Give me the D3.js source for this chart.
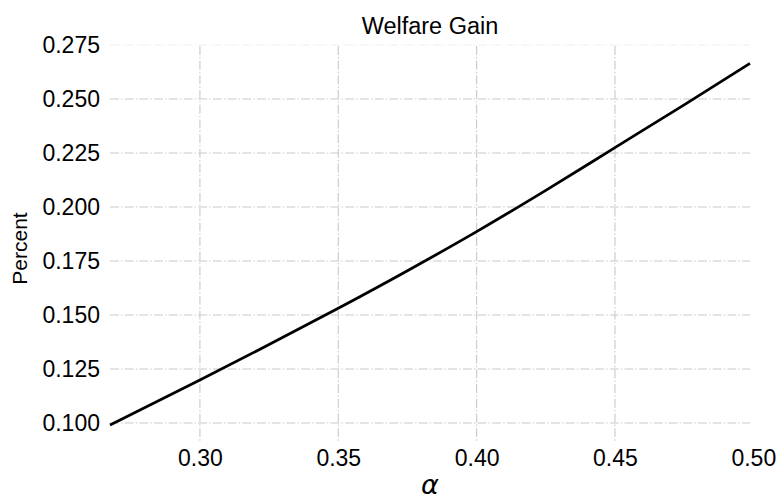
<!DOCTYPE html>
<html>
<head>
<meta charset="utf-8">
<script src="https://cdn.jsdelivr.net/npm/d3@7"></script>
<style>
  body { margin: 0; background: #fff; }
  svg { display: block; }
</style>
</head>
<body>
<svg id="chart" width="779" height="501"></svg>
<script>
// Data
const alphaValues = [0.2675, 0.30, 0.325, 0.35, 0.375, 0.40, 0.425, 0.45, 0.475, 0.4988];
const welfareGain = [0.0991, 0.1199, 0.1363, 0.1531, 0.1705, 0.1886, 0.2077, 0.2275, 0.2473, 0.2665];
const xTicks = [0.30, 0.35, 0.40, 0.45, 0.50];
const yTicks = [0.100, 0.125, 0.150, 0.175, 0.200, 0.225, 0.250, 0.275];
const titleText = "Welfare Gain";
const yLabelText = "Percent";
const xLabelText = "α";

const svg = d3.select("#chart");
const plot = { left: 110, right: 750, top: 46, bottom: 442 };

const x = d3.scaleLinear().domain([0.2675, 0.50]).range([110, 753.3]);
const y = d3.scaleLinear().domain([0.100, 0.275]).range([423, 45]);

const gridColor = "#c9c9c9";
const dash = "8.9,2.2,1.4,2.2";

// vertical grid
svg.append("g").selectAll("line").data(xTicks.filter(t => x(t) <= plot.right)).join("line")
  .attr("x1", d => x(d)).attr("x2", d => x(d))
  .attr("y1", plot.top).attr("y2", plot.bottom)
  .attr("stroke", gridColor).attr("stroke-width", 1.1).attr("stroke-dasharray", dash);

// horizontal grid
svg.append("g").selectAll("line").data(yTicks).join("line")
  .attr("x1", plot.left).attr("x2", plot.right)
  .attr("y1", d => y(d)).attr("y2", d => y(d))
  .attr("stroke", d => d === 0.275 ? "#efefef" : gridColor)
  .attr("stroke-width", 1.1).attr("stroke-dasharray", dash);

// x axis
const xAxis = d3.axisBottom(x).tickValues(xTicks).tickFormat(d3.format(".2f")).tickSize(0).tickPadding(0);
const gx = svg.append("g").attr("transform", `translate(0,${plot.bottom + 8})`).call(xAxis);
gx.select(".domain").remove();
gx.selectAll("text").attr("font-family", "Liberation Sans, Arial, sans-serif")
  .attr("font-size", 23).attr("fill", "#000").attr("dy", "0.71em");

// y axis
const yAxis = d3.axisLeft(y).tickValues(yTicks).tickFormat(d3.format(".3f")).tickSize(0).tickPadding(0);
const gy = svg.append("g").attr("transform", `translate(${plot.left - 10},0)`).call(yAxis);
gy.select(".domain").remove();
gy.selectAll("text").attr("font-family", "Liberation Sans, Arial, sans-serif")
  .attr("font-size", 23).attr("fill", "#000");

// line
const line = d3.line().x((d, i) => x(alphaValues[i])).y(d => y(d)).curve(d3.curveMonotoneX);
svg.append("path").datum(welfareGain)
  .attr("d", line).attr("fill", "none").attr("stroke", "#000").attr("stroke-width", 2.8);

// title
svg.append("text").attr("x", (plot.left + plot.right) / 2).attr("y", 34)
  .attr("text-anchor", "middle").attr("font-family", "Liberation Sans, Arial, sans-serif")
  .attr("font-size", 23.5).attr("fill", "#000").text(titleText);

// y label
svg.append("text").attr("transform", `translate(27,${(plot.top + 423) / 2 + 14}) rotate(-90)`)
  .attr("text-anchor", "middle").attr("font-family", "Liberation Sans, Arial, sans-serif")
  .attr("font-size", 21).attr("fill", "#000").text(yLabelText);

// x label
svg.append("text").attr("x", (plot.left + plot.right) / 2).attr("y", 494)
  .attr("text-anchor", "middle").attr("font-family", "DejaVu Sans, sans-serif")
  .attr("font-style", "italic").attr("font-size", 27).attr("fill", "#000").text(xLabelText);
</script>
</body>
</html>
